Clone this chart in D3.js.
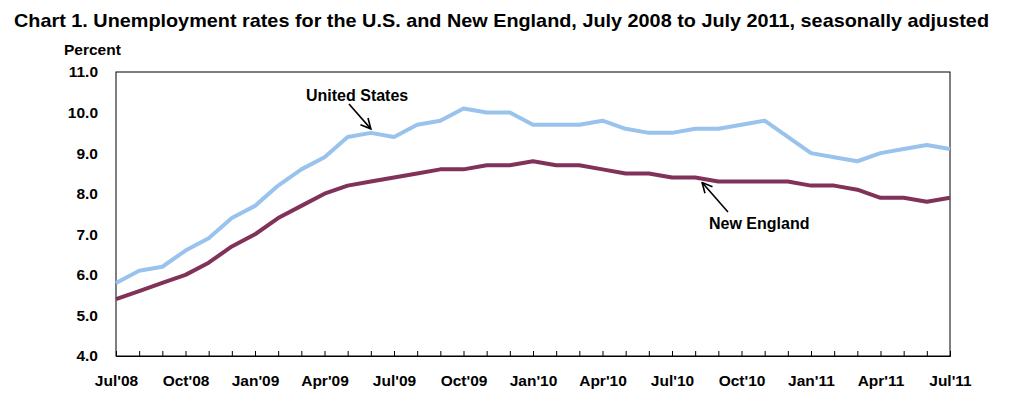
<!DOCTYPE html>
<html lang="en">
<head>
  <meta charset="UTF-8">
  <title>Unemployment rates, U.S. and New England</title>
  <script src="https://d3js.org/d3.v7.min.js"></script>
  <style>
    body { margin: 0; background: #fff; }
    text { font-family: Arial, "Liberation Sans", sans-serif; font-weight: bold; fill: #000; }
    .line { fill: none; stroke-width: 4px; stroke-linejoin: round; }
  </style>
</head>
<body>
  <svg id="chart" width="1010" height="411"></svg>

  <script>
    // months Jul 2008 .. Jul 2011
    const months = [
      "Jul'08", "Aug'08", "Sep'08", "Oct'08", "Nov'08", "Dec'08",
      "Jan'09", "Feb'09", "Mar'09", "Apr'09", "May'09", "Jun'09",
      "Jul'09", "Aug'09", "Sep'09", "Oct'09", "Nov'09", "Dec'09",
      "Jan'10", "Feb'10", "Mar'10", "Apr'10", "May'10", "Jun'10",
      "Jul'10", "Aug'10", "Sep'10", "Oct'10", "Nov'10", "Dec'10",
      "Jan'11", "Feb'11", "Mar'11", "Apr'11", "May'11", "Jun'11",
      "Jul'11"
    ];

    const unitedStates = [
      5.8, 6.1, 6.2, 6.6, 6.9, 7.4,
      7.7, 8.2, 8.6, 8.9, 9.4, 9.5,
      9.4, 9.7, 9.8, 10.1, 10.0, 10.0,
      9.7, 9.7, 9.7, 9.8, 9.6, 9.5,
      9.5, 9.6, 9.6, 9.7, 9.8, 9.4,
      9.0, 8.9, 8.8, 9.0, 9.1, 9.2,
      9.1
    ];

    const newEngland = [
      5.4, 5.6, 5.8, 6.0, 6.3, 6.7,
      7.0, 7.4, 7.7, 8.0, 8.2, 8.3,
      8.4, 8.5, 8.6, 8.6, 8.7, 8.7,
      8.8, 8.7, 8.7, 8.6, 8.5, 8.5,
      8.4, 8.4, 8.3, 8.3, 8.3, 8.3,
      8.2, 8.2, 8.1, 7.9, 7.9, 7.8,
      7.9
    ];

    const yTicks = [4, 5, 6, 7, 8, 9, 10, 11];
    const labelledMonths = ["Jul'08", "Oct'08", "Jan'09", "Apr'09", "Jul'09", "Oct'09",
      "Jan'10", "Apr'10", "Jul'10", "Oct'10", "Jan'11", "Apr'11", "Jul'11"];

    const title = "Chart 1. Unemployment rates for the U.S. and New England, July 2008 to July 2011, seasonally adjusted";

    const width = 1010;
    const height = 411;
    const margin = { top: 72, right: 60, bottom: 55, left: 116 };

    const svg = d3.select("#chart");

    const x = d3.scalePoint()
      .domain(months)
      .range([margin.left, width - margin.right]);

    const y = d3.scaleLinear()
      .domain([4, 11])
      .range([height - margin.bottom, margin.top]);

    // title
    svg.append("text")
      .attr("x", 14)
      .attr("y", 26.5)
      .attr("font-size", 19)
      .attr("textLength", 975)
      .attr("lengthAdjust", "spacingAndGlyphs")
      .text(title);

    svg.append("text")
      .attr("x", 64)
      .attr("y", 55)
      .attr("font-size", 15.5)
      .text("Percent");

    // frame
    svg.append("rect")
      .attr("x", margin.left)
      .attr("y", margin.top)
      .attr("width", width - margin.left - margin.right)
      .attr("height", height - margin.top - margin.bottom)
      .attr("fill", "none")
      .attr("stroke", "#000")
      .attr("stroke-width", 1);

    // x axis, small ticks pointing up
    const xAxis = svg.append("g")
      .attr("transform", `translate(0, ${height - margin.bottom})`)
      .call(d3.axisBottom(x)
        .tickSize(-5)
        .tickPadding(19)
        .tickFormat(d => labelledMonths.includes(d) ? d : ""));
    xAxis.select(".domain").attr("stroke", "#000");
    xAxis.selectAll(".tick line").attr("stroke", "#000");
    xAxis.selectAll("text")
      .attr("font-size", 15.5)
      .attr("font-family", null);

    // y axis labels only
    const yAxis = svg.append("g")
      .attr("transform", `translate(${margin.left}, 0)`)
      .call(d3.axisLeft(y)
        .tickValues(yTicks)
        .tickSize(0)
        .tickPadding(18)
        .tickFormat(d3.format(".1f")));
    yAxis.select(".domain").remove();
    yAxis.selectAll("text")
      .attr("font-size", 15.5)
      .attr("font-family", null);

    const line = d3.line()
      .x((d, i) => x(months[i]))
      .y(d => y(d));

    svg.append("path")
      .datum(unitedStates)
      .attr("class", "line")
      .attr("stroke", "#99c3ed")
      .attr("d", line);

    svg.append("path")
      .datum(newEngland)
      .attr("class", "line")
      .attr("stroke", "#813259")
      .attr("d", line);

    // arrowhead
    svg.append("defs").append("marker")
      .attr("id", "arrow")
      .attr("viewBox", "0 0 12 12")
      .attr("refX", 11)
      .attr("refY", 6)
      .attr("markerWidth", 12)
      .attr("markerHeight", 12)
      .attr("markerUnits", "userSpaceOnUse")
      .attr("orient", "auto")
      .append("path")
      .attr("d", "M1,1 L11,6 L1,11")
      .attr("fill", "none")
      .attr("stroke", "#000")
      .attr("stroke-width", 1.6);

    // United States label, arrow to Jun'09
    const usTip = [x("Jun'09"), y(9.5) - 4];
    svg.append("text")
      .attr("x", 306)
      .attr("y", 101)
      .attr("font-size", 16)
      .text("United States");
    svg.append("line")
      .attr("x1", 349).attr("y1", 104)
      .attr("x2", usTip[0]).attr("y2", usTip[1])
      .attr("stroke", "#000")
      .attr("stroke-width", 1.6)
      .attr("marker-end", "url(#arrow)");

    // New England label, arrow between Aug'10 and Sep'10
    const step = x.step();
    const neTip = [x("Aug'10") + step * 0.3, y(8.4) + 5];
    svg.append("text")
      .attr("x", 709)
      .attr("y", 229)
      .attr("font-size", 16)
      .text("New England");
    svg.append("line")
      .attr("x1", 728).attr("y1", 212)
      .attr("x2", neTip[0]).attr("y2", neTip[1])
      .attr("stroke", "#000")
      .attr("stroke-width", 1.6)
      .attr("marker-end", "url(#arrow)");
  </script>
</body>
</html>
